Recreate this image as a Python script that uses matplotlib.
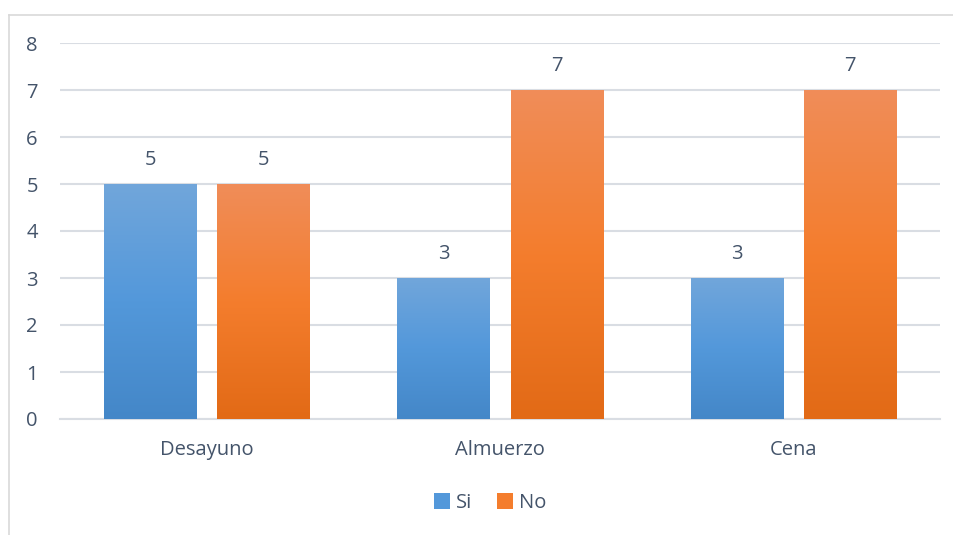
import matplotlib.pyplot as plt
import numpy as np
from matplotlib.colors import LinearSegmentedColormap
from matplotlib.lines import Line2D

categories = ["Desayuno", "Almuerzo", "Cena"]
si_vals = [5, 3, 3]
no_vals = [5, 7, 7]
series_names = ["Si", "No"]

TEXT = "#44546a"
GRID = "#d9dde3"
FS = 14.5

plt.rcParams["font.family"] = ["Open Sans", "DejaVu Sans"]

blue_cm = LinearSegmentedColormap.from_list("b", ["#4487c8", "#5398da", "#71a6db"])
orange_cm = LinearSegmentedColormap.from_list("o", ["#e26a16", "#f47d2d", "#f08d59"])

fig = plt.figure(figsize=(9.54, 5.35), dpi=100)
ax = fig.add_axes([60 / 954, (535 - 419) / 535, 880 / 954, 376 / 535])

# chart frame: only left and top edges are inside the picture
fx, fy = 9.5 / 954, (535 - 14.5) / 535
fig.add_artist(Line2D([fx, fx], [-0.05, fy], transform=fig.transFigure,
                      color="#d9d9d9", lw=1.2))
fig.add_artist(Line2D([fx, 1.05], [fy, fy], transform=fig.transFigure,
                      color="#d9d9d9", lw=1.2))

x = np.arange(len(categories))
w = 0.314
gap = 0.072
off = (w + gap) / 2

grad = np.linspace(0, 1, 256).reshape(-1, 1)
for vals, cm, dx, name in [(si_vals, blue_cm, -off, series_names[0]),
                           (no_vals, orange_cm, off, series_names[1])]:
    bars = ax.bar(x + dx, vals, w, color=cm(0.5), label=name, zorder=2)
    for b, v in zip(bars, vals):
        x0, y0 = b.get_x(), b.get_y()
        im = ax.imshow(grad, cmap=cm, origin="lower", aspect="auto",
                       extent=(x0, x0 + b.get_width(), y0, y0 + b.get_height()),
                       zorder=3)
        im.set_clip_path(b)
        ax.annotate(str(v), (b.get_x() + b.get_width() / 2, v),
                    xytext=(0, 17.5), textcoords="offset points",
                    ha="center", va="center", fontsize=FS, color=TEXT)

ax.set_xlim(-0.5, 2.5)
ax.set_ylim(0, 8)
ax.set_yticks(range(0, 9))
ax.set_xticks(x)
ax.set_xticklabels(categories)
ax.yaxis.grid(True, color=GRID, lw=1.5, zorder=0)
ax.set_axisbelow(True)
for s in ["top", "right", "left"]:
    ax.spines[s].set_visible(False)
ax.spines["bottom"].set_color(GRID)
ax.spines["bottom"].set_linewidth(1.5)
ax.tick_params(axis="both", length=0, labelsize=FS, colors=TEXT)
ax.tick_params(axis="y", pad=16)
ax.tick_params(axis="x", pad=15)

leg = ax.legend(loc="center", bbox_to_anchor=(490 / 954, (535 - 503) / 535),
                bbox_transform=fig.transFigure, ncol=2, frameon=False,
                fontsize=FS, handlelength=0.8, handleheight=0.8,
                handletextpad=0.3, columnspacing=1.2, labelcolor=TEXT)

fig.savefig("out.png", dpi=100)
